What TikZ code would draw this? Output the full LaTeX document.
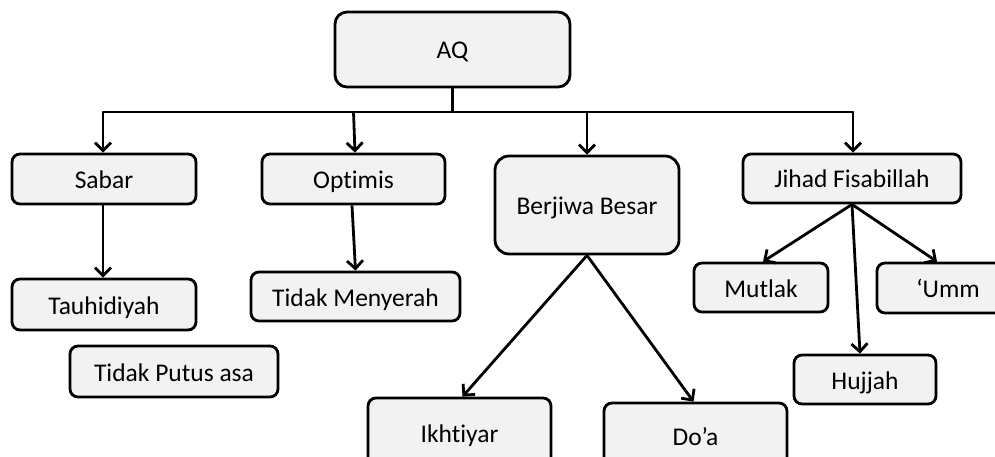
\documentclass[tikz,border=0pt]{standalone}
\usepackage{fontspec}
\setmainfont{Carlito}[Ligatures=NoCommon]
\usetikzlibrary{arrows.meta}
\definecolor{boxfill}{HTML}{F2F2F2}
\begin{document}
\begin{tikzpicture}[x=1pt,y=-1pt,
  box/.style={draw=black, line width=2.8pt, fill=boxfill, rounded corners=8pt,
    inner sep=0pt, text height=21pt, text depth=2pt,
    font=\fontsize{25.5}{30}\selectfont, text=black},
  link/.style={line width=2.8pt, draw=black},
  arr/.style={link, -{Straight Barb[length=8pt,width=16pt,line width=2.8pt]}}]
\useasboundingbox (0,0) rectangle (995,457);
% top level
\node[box, rounded corners=12pt, minimum width=235pt, minimum height=75pt] (AQ) at (452.5,49.5) {AQ};
% second level
\node[box, minimum width=184pt, minimum height=50pt] (sabar) at (104,179) {Sabar};
\node[box, minimum width=183pt, minimum height=50pt] (optimis) at (353.5,179) {Optimis};
\node[box, rounded corners=14pt, minimum width=184pt, minimum height=98pt] (berjiwa) at (587,205) {Berjiwa Besar};
\node[box, minimum width=218pt, minimum height=49pt] (jihad) at (852,178.5) {Jihad Fisabillah};
% third level
\node[box, minimum width=184pt, minimum height=51pt] (tauhid) at (104,304.5) {Tauhidiyah};
\node[box, minimum width=208pt, minimum height=51pt] (putus) at (174,371.5) {Tidak Putus asa};
\node[box, minimum width=209pt, minimum height=49pt] (menyerah) at (355.5,296.5) {Tidak Menyerah};
\node[box, minimum width=183pt, minimum height=70pt] (ikhtiyar) at (459.5,433) {Ikhtiyar};
\node[box, minimum width=183pt, minimum height=66pt] (doa) at (695.5,436) {Do’a};
\node[box, minimum width=134pt, minimum height=49pt] (mutlak) at (761,287.5) {Mutlak};
\node[box, minimum width=142pt, minimum height=50pt] (umm) at (948,288) {‘Umm};
\node[box, minimum width=142pt, minimum height=49pt] (hujjah) at (865,379.5) {Hujjah};
% distribution bus under the root
\coordinate (busL) at (103,112);
\coordinate (busR) at (853,112);
\draw[link] (AQ.south) -- (AQ.south |- busL);
\draw[link, line cap=round] (busL) -- (busR);
\draw[arr] (busL) -- (busL |- sabar.north);
\draw[arr] (optimis.north |- busL) -- ([xshift=1.5pt]optimis.north);
\draw[arr] (berjiwa.north |- busL) -- (berjiwa.north);
\draw[arr] (busR) -- (busR |- jihad.north);
% branches
\draw[arr] ([xshift=-1pt]sabar.south) -- ([xshift=-1pt]tauhid.north);
\draw[arr] ([xshift=-1.5pt]optimis.south) -- (menyerah.north);
\draw[arr] (berjiwa.south) -- ([xshift=3pt]ikhtiyar.north);
\draw[arr] (berjiwa.south) -- ([xshift=-2pt]doa.north);
\draw[arr] (jihad.south) -- ([xshift=2pt]mutlak.north);
\draw[arr] (jihad.south) -- ([xshift=-11pt]umm.north);
\draw[arr] (jihad.south) -- ([xshift=-5pt]hujjah.north);
\end{tikzpicture}
\end{document}
